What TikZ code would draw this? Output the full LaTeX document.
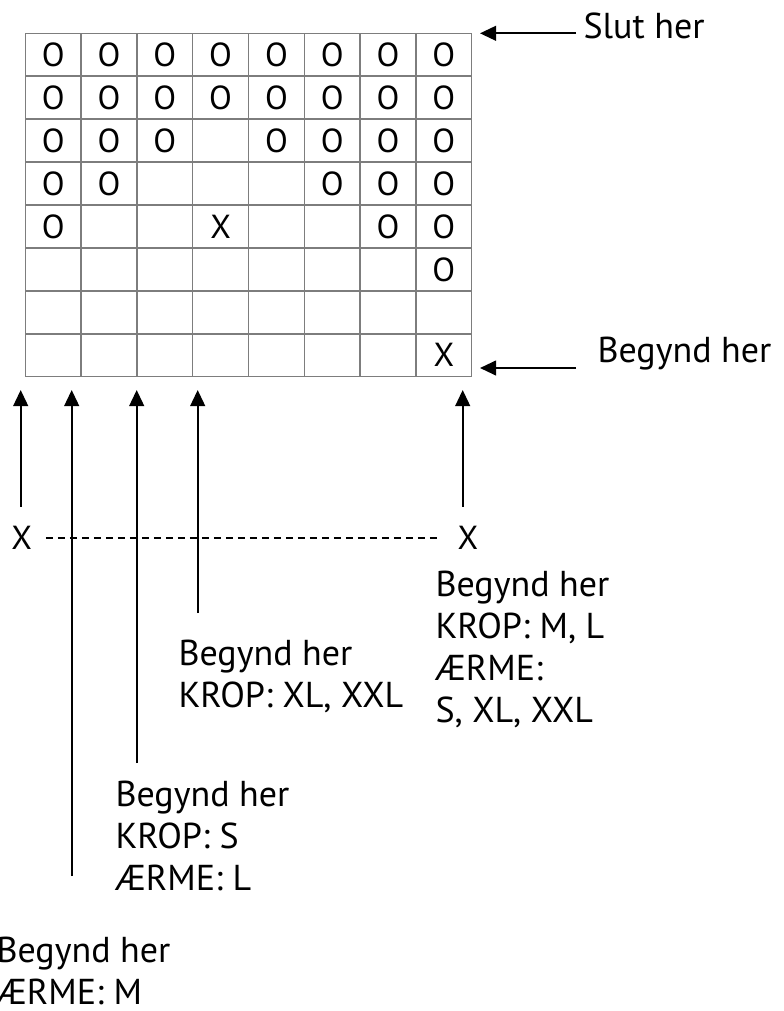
\documentclass[tikz,border=0pt]{standalone}
\usepackage{fontspec}
\setmainfont{PT Sans}
\usetikzlibrary{arrows.meta}

\tikzset{every picture/.style={line width=0.75pt}}
\tikzset{
  pil/.style={-{Triangle[length=12pt,width=11pt]}, line width=1.5pt},
  gitter/.style={color={rgb, 255:red, 125; green, 125; blue, 125}, line width=1.1pt},
  tegn/.style={inner sep=0pt, font=\fontsize{25}{29}\selectfont},
  tekst/.style={anchor=base west, inner sep=0pt, align=left, font=\fontsize{27}{31.5}\selectfont},
  stiplet/.style={dash pattern=on 5.5pt off 3.5pt, line width=1.1pt}
}

\begin{document}
\begin{tikzpicture}[x=0.75pt,y=0.75pt,yscale=-1,xscale=1]
            \useasboundingbox (0,0) rectangle (783,1011);

            %Grid 8 x 8
            \foreach \i in {0,...,8} {
              \draw[gitter] (25.3+55.8*\i,33.3) -- (25.3+55.8*\i,376.7);
              \draw[gitter] (25.3,33.3+42.925*\i) -- (471.7,33.3+42.925*\i);
            }
            %Cells with O
            \foreach \r/\kol in {1/{1,...,8},2/{1,...,8},3/{1,2,3,5,6,7,8},4/{1,2,6,7,8},5/{1,7,8},6/{8}}
              \foreach \k in \kol
                \node[tegn] (o-\r-\k) at (25.3+55.8*\k-27.9,33.3+42.925*\r-21.46) {O};
            %Cells with X
            \node[tegn] (x-5-4) at (25.3+55.8*4-27.9,33.3+42.925*5-21.46) {X};
            \node[tegn] (x-8-8) at (25.3+55.8*8-27.9,33.3+42.925*8-21.46) {X};

            %Arrows from the right
            \coordinate (slut-hale) at (576,33.3);
            \coordinate (slut-spids) at (480,33.3);
            \draw[pil] (slut-hale) -- (slut-spids);
            \coordinate (start-hale) at (576,368);
            \coordinate (start-spids) at (480,368);
            \draw[pil] (start-hale) -- (start-spids);

            %Arrows from below
            \coordinate (b1) at (20.7,506.7);
            \coordinate (t1) at (20.7,390);
            \coordinate (b2) at (71.7,876);
            \coordinate (t2) at (71.7,390);
            \coordinate (b3) at (136.7,763);
            \coordinate (t3) at (136.7,390);
            \coordinate (b4) at (197.7,613);
            \coordinate (t4) at (197.7,390);
            \coordinate (b5) at (462.7,506.7);
            \coordinate (t5) at (462.7,390);

            % Dashed line between the two x
            \node[tegn] (x-venstre) at (21.7,538) {X};
            \node[tegn] (x-hoejre) at (468,538) {X};
            \draw[stiplet, shorten <=10pt, shorten >=14pt] (x-venstre.east) -- (x-hoejre.west);

            \draw[pil] (b1) -- (t1);
            \draw[pil] (b2) -- (t2);
            \draw[pil] (b3) -- (t3);
            \draw[pil] (b4) -- (t4);
            \draw[pil] (b5) -- (t5);

            % Text Node
            \node[tekst] (slut) at (583,38) {Slut her};
            % Text Node
            \node[tekst] (start) at (597,362) {Begynd her};
            % Text Node
            \node[tekst] (tekst-ml) at (435,722) {Begynd her\\KROP: M, L\\ÆRME:\\S, XL, XXL};
            % Text Node
            \node[tekst] (tekst-xl) at (178,707) {Begynd her\\KROP: XL, XXL};
            % Text Node
            \node[tekst] (tekst-s) at (115,890) {Begynd her\\KROP: S\\ÆRME: L};
            % Text Node
            \node[tekst] (tekst-m) at (-4,1004) {Begynd her\\ÆRME: M};

\end{tikzpicture}
\end{document}
